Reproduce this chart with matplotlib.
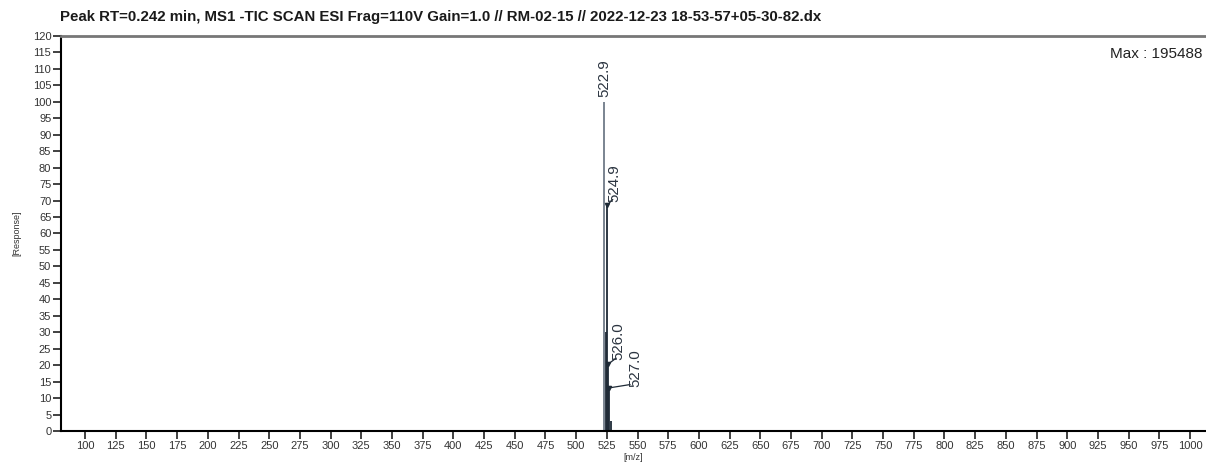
import numpy as np
import matplotlib.pyplot as plt

plt.rcParams['font.family'] = ['Liberation Sans', 'DejaVu Sans']

# spectrum peaks (m/z, relative response %)
mz = [522.9, 523.9, 524.9, 526.0, 527.0, 528.0]
resp = [100.0, 30.0, 68.5, 20.3, 13.1, 3.0]
labels = ['522.9', '', '524.9', '526.0', '527.0', '']

title = 'Peak RT=0.242 min, MS1 -TIC SCAN ESI Frag=110V Gain=1.0 // RM-02-15 // 2022-12-23 18-53-57+05-30-82.dx'
max_text = 'Max : 195488'

fig = plt.figure(figsize=(12.06, 4.67), dpi=100)
ax = fig.add_axes([0.0506, 0.0771, 0.9494, 0.8459])

for m, r in zip(mz, resp):
    c = '#6f7b88' if r == max(resp) else '#1e2a36'
    ax.vlines(m, 0, r, color=c, lw=1.3)

# label offsets (dx in m/z, dy in %)
offs = {'522.9': (0.0, 1.5), '524.9': (6.0, 1.2), '526.0': (8.0, 1.2), '527.0': (21.0, 0.4)}
for m, r, lab in zip(mz, resp, labels):
    if not lab:
        continue
    dx, dy = offs[lab]
    ax.text(m + dx, r + dy, lab, rotation=90, ha='center', va='bottom',
            fontsize=10.8, color='#2b3440')
    if dx > 0:
        ax.plot([m, m + dx * 0.8], [r, r + dy + 0.6], color='#1e2a36', lw=0.9)
        ax.plot(m, r, marker='v', ms=3, color='#1e2a36')

ax.set_xlim(80.4, 1013)
ax.set_ylim(0, 120)
ax.set_xticks(np.arange(100, 1001, 25))
ax.set_yticks(np.arange(0, 121, 5))
ax.tick_params(axis='both', labelsize=8, colors='#333333', length=6, width=1.3, pad=1)
ax.tick_params(axis='x', pad=1.5)
ax.spines['right'].set_visible(False)
ax.spines['left'].set_linewidth(1.5)
ax.spines['bottom'].set_linewidth(1.5)
ax.spines['top'].set_linewidth(2.0)
ax.spines['top'].set_color('#777777')

ax.set_xlabel('[m/z]', fontsize=6.5, color='#333333', labelpad=1)
fig.text(17 / 1206, 0.5, '[Response]', rotation=90, ha='center', va='center',
         fontsize=6.5, color='#333333')

fig.text(0.05, 0.964, title, fontsize=10.8, fontweight='bold', color='#1a1a1a', va='center')
ax.text(0.997, 0.955, max_text, transform=ax.transAxes, ha='right', va='center',
        fontsize=11, color='#222222')

fig.savefig('out.png', dpi=100)
